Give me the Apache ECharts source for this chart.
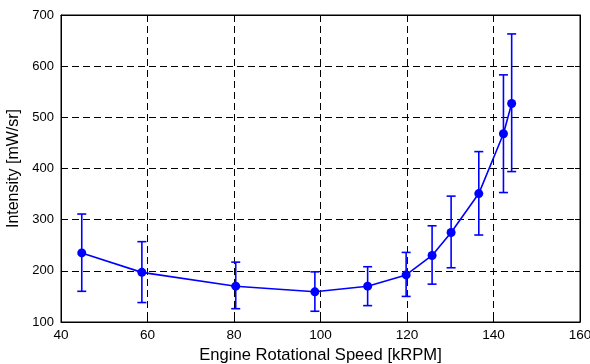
<!DOCTYPE html>
<html>
<head>
<meta charset="utf-8">
<script src="https://cdn.jsdelivr.net/npm/echarts@6/dist/echarts.min.js"></script>
<style>html,body{margin:0;padding:0;background:#fff}#c{width:590px;height:364px}</style>
</head>
<body>
<div id="c"></div>
<script>
const speeds = [44.8, 58.7, 80.4, 98.7, 110.9, 119.8, 125.8, 130.2, 136.6, 142.3, 144.2];
const intensity = [235, 197, 170, 159, 170, 192, 230, 275, 351, 468, 527];
const errHigh = [311, 257, 217, 198, 208, 236, 288, 346, 433, 583, 663];
const errLow = [160, 138, 126, 121, 132, 150, 174, 206, 270, 353, 394];
const xTicks = [40, 60, 80, 100, 120, 140, 160];
const yTicks = [100, 200, 300, 400, 500, 600, 700];

const chart = echarts.init(document.getElementById('c'));
const font = 'Liberation Sans, Arial, sans-serif';
const gridLine = {show: true, lineStyle: {color: '#000', type: [7, 4], width: 1}};
const errData = speeds.map((s, i) => [s, errLow[i], errHigh[i]]);
chart.setOption({
  animation: false,
  grid: {left: 61, right: 10, top: 15, bottom: 42, show: true, borderColor: '#000', borderWidth: 1,
         containLabel: false, outerBoundsMode: 'none'},
  xAxis: [{
    type: 'value', min: xTicks[0], max: xTicks[xTicks.length - 1], interval: 20,
    name: 'Engine Rotational Speed [kRPM]', nameLocation: 'middle', nameGap: 20,
    nameTextStyle: {fontFamily: font, fontSize: 16.6, color: '#000'},
    axisLine: {show: true, lineStyle: {color: '#000', width: 1}},
    axisTick: {show: true, inside: true, length: 5, lineStyle: {color: '#000'}},
    axisLabel: {fontFamily: font, fontSize: 13.6, color: '#000', margin: 6},
    splitLine: gridLine
  }, {
    type: 'value', position: 'top', min: 40, max: 160, interval: 20,
    axisLine: {show: true, lineStyle: {color: '#000'}},
    axisTick: {show: true, inside: true, length: 5, lineStyle: {color: '#000'}},
    axisLabel: {show: false}, splitLine: {show: false}
  }],
  yAxis: [{
    type: 'value', min: yTicks[0], max: yTicks[yTicks.length - 1], interval: 100,
    name: 'Intensity [mW/sr]', nameLocation: 'middle', nameGap: 31,
    nameTextStyle: {fontFamily: font, fontSize: 16, color: '#000'},
    axisLine: {show: true, lineStyle: {color: '#000', width: 1}},
    axisTick: {show: true, inside: true, length: 5, lineStyle: {color: '#000'}},
    axisLabel: {fontFamily: font, fontSize: 13, color: '#000', margin: 7},
    splitLine: gridLine
  }, {
    type: 'value', position: 'right', min: 100, max: 700, interval: 100,
    axisLine: {show: true, lineStyle: {color: '#000'}},
    axisTick: {show: true, inside: true, length: 5, lineStyle: {color: '#000'}},
    axisLabel: {show: false}, splitLine: {show: false}
  }],
  series: [{
    type: 'custom',
    data: errData,
    z: 3,
    renderItem: function (params, api) {
      const x = api.value(0);
      const lo = api.coord([x, api.value(1)]);
      const hi = api.coord([x, api.value(2)]);
      const w = 4.5;
      const style = {stroke: '#0000ff', lineWidth: 1.6};
      return {type: 'group', children: [
        {type: 'line', shape: {x1: lo[0], y1: lo[1], x2: hi[0], y2: hi[1]}, style: style},
        {type: 'line', shape: {x1: lo[0] - w, y1: lo[1], x2: lo[0] + w, y2: lo[1]}, style: style},
        {type: 'line', shape: {x1: hi[0] - w, y1: hi[1], x2: hi[0] + w, y2: hi[1]}, style: style}
      ]};
    }
  }, {
    type: 'line',
    data: speeds.map((s, i) => [s, intensity[i]]),
    z: 4,
    symbol: 'circle', symbolSize: 9,
    lineStyle: {color: '#0000ff', width: 1.6},
    itemStyle: {color: '#0000ff'}
  }]
});
</script>
</body>
</html>
